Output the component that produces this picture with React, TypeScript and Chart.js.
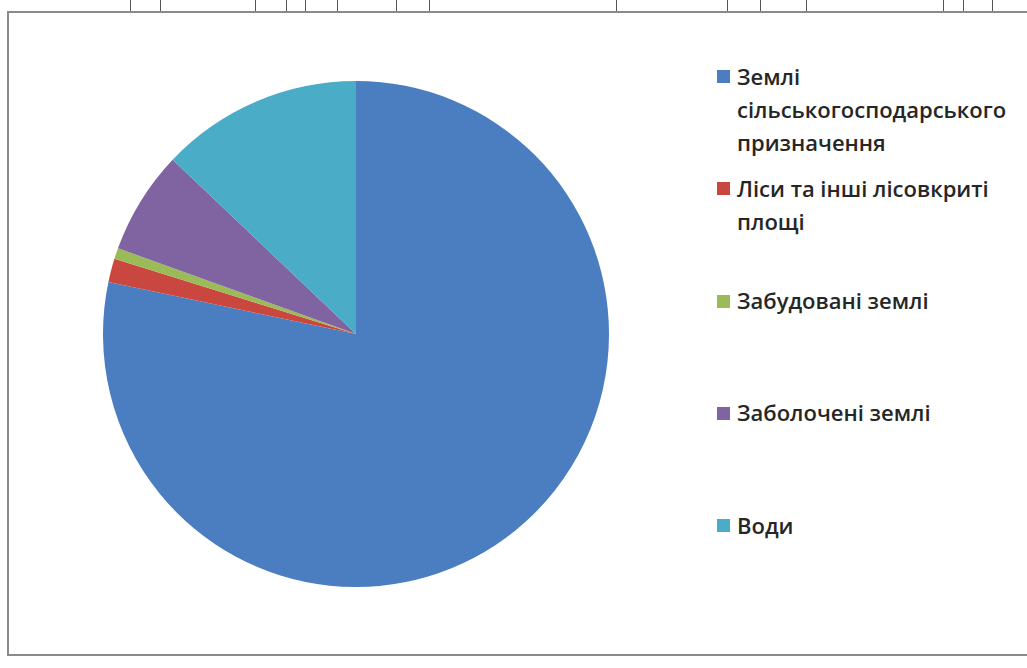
import React, { useEffect, useRef } from "react";
import { Chart, registerables } from "chart.js";

Chart.register(...registerables);

// ---- data ----
const categories: string[][] = [
  ["Землі", "сільськогосподарського", "призначення"],
  ["Ліси та інші лісовкриті", "площі"],
  ["Забудовані землі"],
  ["Заболочені землі"],
  ["Води"],
];
const shares: number[] = [78.3, 1.5, 0.7, 6.6, 12.9];
const colors: string[] = ["#4A7EC0", "#C9473F", "#9BBB59", "#8064A2", "#4BACC8"];

// scan artefacts along the top edge (x positions)
const topMarks: number[] = [130, 160, 255, 286, 305, 337, 396, 429, 616, 727, 760, 806, 943, 963, 992];

export default function App() {
  const ref = useRef<HTMLCanvasElement | null>(null);

  useEffect(() => {
    if (!ref.current) return;
    const chart = new Chart(ref.current, {
      type: "pie",
      data: {
        labels: categories.map((c) => c.join(" ")),
        datasets: [
          {
            data: shares,
            backgroundColor: colors,
            borderWidth: 0,
          },
        ],
      },
      options: {
        responsive: false,
        animation: false,
        devicePixelRatio: 1,
        layout: { padding: 0 },
        plugins: {
          legend: { display: false },
          tooltip: { enabled: false },
        },
      },
    });
    return () => chart.destroy();
  }, []);

  const legendTop0 = 76;
  const legendStep = 112.25;
  const lineH = 33;

  return (
    <div
      style={{
        position: "absolute",
        left: 0,
        top: 0,
        width: 1027,
        height: 668,
        background: "#ffffff",
        overflow: "hidden",
        fontFamily: "'Open Sans', 'Noto Sans', sans-serif",
      }}
    >
      {topMarks.map((x, i) => (
        <div
          key={i}
          style={{
            position: "absolute",
            left: x,
            top: 0,
            width: 1,
            height: 11,
            background: "#555",
          }}
        />
      ))}
      <div
        style={{
          position: "absolute",
          left: 7,
          top: 11,
          width: 1040,
          height: 645,
          border: "2px solid #8a8a8a",
          boxSizing: "border-box",
        }}
      />
      <canvas
        ref={ref}
        width={506}
        height={506}
        style={{ position: "absolute", left: 103, top: 81, width: 506, height: 506 }}
      />
      {categories.map((lines, i) => {
        const center = legendTop0 + legendStep * i;
        return (
          <div
            key={i}
            style={{
              position: "absolute",
              left: 717,
              top: center - lineH / 2,
              width: 305,
            }}
          >
            <div
              style={{
                position: "absolute",
                left: 0,
                top: lineH / 2 - 6,
                width: 13,
                height: 13,
                background: colors[i],
              }}
            />
            <div
              style={{
                position: "absolute",
                left: 20,
                top: 0,
                fontSize: 22,
                fontWeight: 600,
                lineHeight: lineH + "px",
                color: "#262626",
                whiteSpace: "nowrap",
              }}
            >
              {lines.map((l, j) => (
                <div key={j}>{l}</div>
              ))}
            </div>
          </div>
        );
      })}
    </div>
  );
}
